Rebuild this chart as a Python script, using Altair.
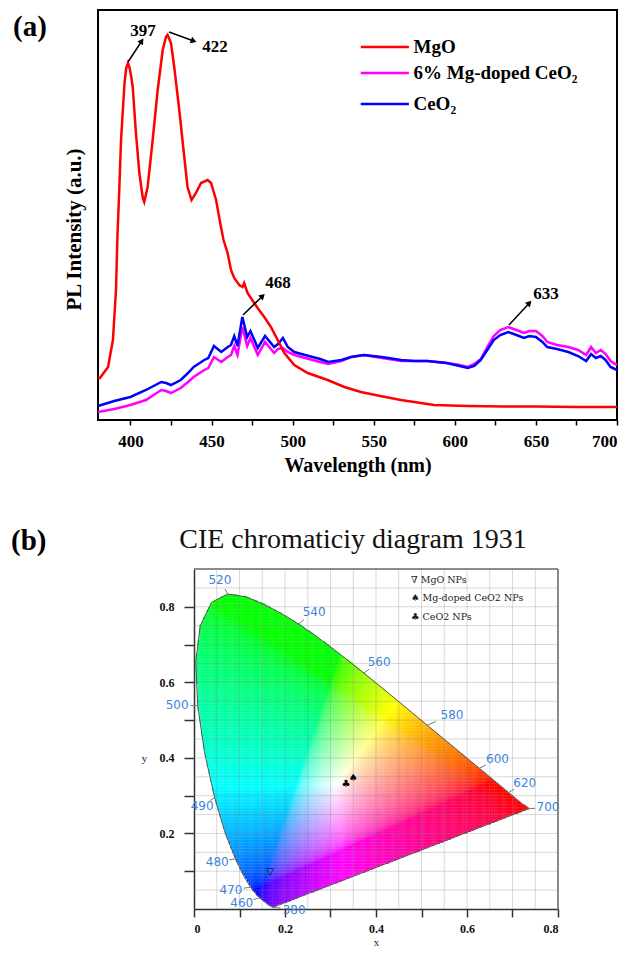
import math
import numpy as np
import pandas as pd
import altair as alt

# ================= Panel (a): PL spectra =================
mgo_wl = [380, 381.2, 386.2, 389.2, 391.1, 392.0, 393.0, 394.2, 395.4, 396.4, 397.4, 398.5,
          399.5, 400.4, 401.4, 403.4, 405.5, 407.6, 408.5, 410.6, 413.7, 416.8, 419.9, 421.9,
          422.9, 425.0, 427.0, 430.1, 433.2, 435.2, 437.7, 440.4, 443.5, 447.6, 449.7, 452.8,
          455.8, 457.4, 459.9, 462.0, 464.0, 467.1, 469.1, 470.1, 472.2, 476.3, 478.4, 482.5,
          486.6, 490.8, 494.9, 501.0, 509.3, 521.6, 531.9, 542.1, 554.0, 566.8, 587.2, 608.0,
          630.0, 650.0, 675.0, 700.0]
mgo_pl = [42, 42, 53, 80, 130, 185, 225, 280, 312, 338, 352, 357,
          352, 344, 333, 287, 247, 222, 218, 233, 280, 330, 370, 383,
          385, 377, 353, 310, 263, 233, 220, 227, 237, 240, 237, 220,
          193, 180, 167, 150, 142, 135, 133, 137, 127, 117, 112, 103,
          93, 80, 67, 55, 47, 40, 33, 28, 24, 20, 15, 14,
          13.5, 13.5, 13, 13]

ceo_wl = [380, 390, 400, 409.6, 419, 422, 425, 431, 435.5, 439,
          445.5, 448, 451.5, 456, 460, 462, 464, 466, 469, 472,
          474, 478.5, 483, 488.6, 491, 494, 497, 501, 510, 517,
          522, 530, 536, 544, 555, 567, 575, 583, 595, 603,
          608, 612, 616, 620, 624, 628, 633, 638, 642.6, 646,
          650, 654, 657, 663, 670, 676, 681, 684, 687, 690,
          693, 696, 700]
ceo2_pl = [14, 19, 23, 30, 38, 37, 35, 40, 47, 53,
           60, 62, 74, 68, 73, 75, 84, 74, 103, 83,
           89, 72, 84, 73, 76, 82, 73, 68, 64, 61,
           58, 60, 63, 65, 63, 60, 59, 59, 57, 54,
           52, 54, 60, 70, 80, 85, 88, 85, 82, 84,
           83, 78, 73, 71, 68, 64, 59, 66, 62, 64,
           60, 53, 50]
mgceo2_pl = [8, 11, 15, 20, 30, 29, 27, 32, 38, 43,
             50, 52, 63, 58, 63, 65, 74, 65, 93, 74,
             82, 65, 78, 67, 71, 72, 68, 65, 61, 58,
             56, 59, 63, 65, 62, 59, 59, 59, 57, 55,
             53, 56, 61, 73, 84, 90, 93, 90, 87, 89,
             89, 84, 78, 75, 73, 70, 65, 73, 67, 70,
             66, 59, 55]

series_names = ["MgO", "6% Mg-doped CeO\u2082", "CeO\u2082"]
series_colors = ["#ff0000", "#ff00ff", "#0000ff"]

# legend rows (a)
leg_y = [373, 347, 316]
leg_x1 = 542.0
leg_x2 = 571.7
leg_tx = 574.5

# peak annotations (a)
arr_x1 = [398.5, 423.8, 469.4, 633.4]
arr_y1 = [358, 388, 105, 95]
arr_x2 = [407.0, 439.0, 481.5, 646.0]
arr_y2 = [379, 379, 124, 117]
arr_lab = ["397", "422", "468", "633"]
arr_lx = [407.7, 452.1, 491.0, 656.2]
arr_ly = [389, 373, 137.5, 126]

# ================= Panel (b): CIE 1931 =================
cie_nm = [380, 390, 400, 410, 420, 430, 440, 450, 455, 460, 465, 470, 475, 480, 485, 490,
          495, 500, 505, 510, 515, 520, 525, 530, 535, 540, 545, 550, 555, 560, 565, 570,
          575, 580, 585, 590, 595, 600, 605, 610, 615, 620, 630, 640, 650, 660, 680, 700]
cie_x = [0.17411, 0.17380, 0.17334, 0.17258, 0.17141, 0.16888, 0.16441, 0.15664, 0.15099,
         0.14396, 0.13550, 0.12412, 0.10959, 0.09129, 0.06871, 0.04539, 0.02346, 0.00817,
         0.00386, 0.01387, 0.03885, 0.07430, 0.11416, 0.15472, 0.19288, 0.22962, 0.26578,
         0.30160, 0.33736, 0.37310, 0.40874, 0.44406, 0.47877, 0.51249, 0.54479, 0.57515,
         0.60293, 0.62704, 0.64823, 0.66576, 0.68008, 0.69150, 0.70792, 0.71903, 0.72599,
         0.73027, 0.73439, 0.73469]
cie_y = [0.00496, 0.00492, 0.00480, 0.00480, 0.00510, 0.00690, 0.01086, 0.01771, 0.02274,
         0.02970, 0.03988, 0.05780, 0.08684, 0.13270, 0.20072, 0.29498, 0.41270, 0.53842,
         0.65482, 0.75019, 0.81202, 0.83380, 0.82621, 0.80586, 0.78163, 0.75433, 0.72432,
         0.69231, 0.65885, 0.62445, 0.58961, 0.55472, 0.52021, 0.48659, 0.45443, 0.42423,
         0.39650, 0.37249, 0.35139, 0.33401, 0.31975, 0.30834, 0.29203, 0.28093, 0.27401,
         0.26975, 0.26561, 0.26531]

wl_lab_nm = [380, 460, 470, 480, 490, 500, 520, 540, 560, 580, 600, 620, 700]
wl_lab_x = [0.220, 0.105, 0.081, 0.051, 0.018, -0.037, 0.057, 0.264, 0.407, 0.567, 0.667, 0.727, 0.778]
wl_lab_y = [-0.003, 0.016, 0.050, 0.125, 0.273, 0.540, 0.872, 0.787, 0.654, 0.514, 0.397, 0.334, 0.269]

pt_names = ["MgO NPs", "Mg-doped CeO2 NPs", "CeO2 NPs"]
pt_glyph = ["\u25bd", "\u2660", "\u2663"]
pt_x = [0.167, 0.350, 0.334]
pt_y = [0.098, 0.348, 0.331]
pt_leg_glyph = ["\u2207", "\u2660", "\u2663"]
pt_leg_x = 0.477
pt_leg_y = [0.8715, 0.824, 0.7735]

SERIF = "Liberation Serif"

# ---------------- build panel (a) ----------------
rows = []
for w, v in zip(mgo_wl, mgo_pl):
    rows.append({"series": series_names[0], "wl": w, "pl": v})
for w, v in zip(ceo_wl, mgceo2_pl):
    rows.append({"series": series_names[1], "wl": w, "pl": v})
for w, v in zip(ceo_wl, ceo2_pl):
    rows.append({"series": series_names[2], "wl": w, "pl": v})
df_lines = pd.DataFrame(rows)

xa = alt.Scale(domain=[380, 700], nice=False, zero=False)
ya = alt.Scale(domain=[0, 410], nice=False, zero=False)
col = alt.Scale(domain=series_names, range=series_colors)

x_axis_a = alt.Axis(values=list(range(400, 701, 25)),
                    labelExpr="datum.value % 50 == 0 ? datum.label : ''",
                    format="d", title="Wavelength (nm)", grid=False, domain=False,
                    tickColor="black", tickWidth=1.5, tickSize=5,
                    labelFont=SERIF, labelFontWeight="bold", labelFontSize=17, labelColor="black",
                    labelPadding=8, titleFont=SERIF, titleFontWeight="bold", titleFontSize=20,
                    titleColor="black", titlePadding=6)
y_axis_a = alt.Axis(title="PL Intensity (a.u.)", labels=False, ticks=False, domain=False, grid=False,
                    titleFont=SERIF, titleFontWeight="bold", titleFontSize=21, titleColor="black",
                    titlePadding=14, titleY=219)


def XA(field):
    return alt.X(field, scale=xa, axis=x_axis_a, title="Wavelength (nm)")


def YA(field):
    return alt.Y(field, scale=ya, axis=y_axis_a, title="PL Intensity (a.u.)")


lines_layers = []
for name in [series_names[1], series_names[2], series_names[0]]:
    lines_layers.append(
        alt.Chart(df_lines[df_lines.series == name]).mark_line(strokeWidth=2.5).encode(
            x=XA("wl:Q"), y=YA("pl:Q"),
            color=alt.Color("series:N", scale=col, legend=None),
        )
    )

df_leg = pd.DataFrame({"series": series_names, "x1": [leg_x1] * 3, "x2": [leg_x2] * 3,
                       "y": leg_y, "tx": [leg_tx] * 3})
leg_lines = alt.Chart(df_leg).mark_rule(strokeWidth=2.5).encode(
    x=XA("x1:Q"), x2="x2:Q", y=YA("y:Q"),
    color=alt.Color("series:N", scale=col, legend=None))
leg_text = alt.Chart(df_leg).mark_text(align="left", baseline="middle", font=SERIF,
                                       fontWeight="bold", fontSize=19, color="black").encode(
    x=XA("tx:Q"), y=YA("y:Q"), text="series:N")

px_per_nm = 519.0 / 320.0
angs = []
for a1, b1, a2, b2 in zip(arr_x1, arr_y1, arr_x2, arr_y2):
    angs.append(math.degrees(math.atan2((a2 - a1) * px_per_nm, (b2 - b1))) % 360)
df_arr = pd.DataFrame({"x1": arr_x1, "y1": arr_y1, "x2": arr_x2, "y2": arr_y2, "ang": angs,
                       "lab": arr_lab, "lx": arr_lx, "ly": arr_ly})
arr_rule = alt.Chart(df_arr).mark_rule(color="black", strokeWidth=1.5).encode(
    x=XA("x1:Q"), y=YA("y1:Q"), x2="x2:Q", y2="y2:Q")
arr_head = alt.Chart(df_arr).mark_point(shape="triangle-up", filled=True, size=45, color="black",
                                        opacity=1).encode(
    x=XA("x2:Q"), y=YA("y2:Q"), angle=alt.Angle("ang:Q", scale=None))
arr_text = alt.Chart(df_arr).mark_text(font=SERIF, fontWeight="bold", fontSize=17, color="black",
                                       baseline="middle").encode(
    x=XA("lx:Q"), y=YA("ly:Q"), text="lab:N")

df_tag_a = pd.DataFrame({"x": [327.6], "y": [393], "t": ["(a)"]})
tag_a = alt.Chart(df_tag_a).mark_text(align="left", baseline="middle", font=SERIF, fontWeight="bold",
                                      fontSize=29, color="black").encode(
    x=XA("x:Q"), y=YA("y:Q"), text="t:N")

chart_a = alt.layer(*lines_layers, leg_lines, leg_text, arr_rule, arr_head, arr_text, tag_a).properties(
    width=519, height=410, view=alt.ViewBackground(stroke="black", strokeWidth=2))

# ---------------- build panel (b) ----------------
xb = alt.Scale(domain=[0, 0.8], range=[96, 460], nice=False, zero=False)
yb = alt.Scale(domain=[0, 0.9], nice=False, zero=False)

# colour cells inside the spectral locus
step = 0.004
gxs = np.arange(0.0, 0.75, step)
gys = np.arange(0.0, 0.84, step)
GX, GY = np.meshgrid(gxs, gys)
CX = GX + step / 2
CY = GY + step / 2
pxl = np.array(cie_x + [cie_x[0]])
pyl = np.array(cie_y + [cie_y[0]])
inside = np.zeros(CX.shape, dtype=bool)
for k in range(len(pxl) - 1):
    xi, yi, xj, yj = pxl[k], pyl[k], pxl[k + 1], pyl[k + 1]
    dy = (yj - yi) if yj != yi else 1e-12
    cond = (yi > CY) != (yj > CY)
    xint = (xj - xi) * (CY - yi) / dy + xi
    inside ^= cond & (CX < xint)
cx = CX[inside]
cy = CY[inside]
Xc = cx / cy
Zc = (1 - cx - cy) / cy
r = 3.2406 * Xc - 1.5372 - 0.4986 * Zc
g = -0.9689 * Xc + 1.8758 + 0.0415 * Zc
b = 0.0557 * Xc - 0.2040 + 1.0570 * Zc
rgb = np.clip(np.stack([r, g, b], axis=1), 0, None)
rgb = rgb / rgb.max(axis=1, keepdims=True)
rgb = np.where(rgb <= 0.0031308, 12.92 * rgb, 1.055 * np.power(rgb, 1 / 2.4) - 0.055)
rgb = np.clip(np.round(rgb * 255), 0, 255).astype(int)
hexes = ["#%02x%02x%02x" % tuple(v) for v in rgb]
df_cells = pd.DataFrame({"cx": np.round(GX[inside], 3), "cy": np.round(GY[inside], 3), "c": hexes})

x_axis_b = alt.Axis(values=[0, 0.1, 0.2, 0.3, 0.4, 0.5, 0.6, 0.7, 0.8],
                    labelExpr="round(datum.value * 10) % 2 == 0 ? datum.label : ''",
                    format="~g", title="x", grid=False, domainColor="#333", domainWidth=1.5,
                    tickColor="#333", tickWidth=1.5, tickSize=8, labelPadding=6,
                    labelFont=SERIF, labelFontWeight="bold", labelFontSize=12, labelColor="#111",
                    titleFont=SERIF, titleFontWeight="normal", titleFontSize=11, titleColor="#222",
                    titlePadding=2)
y_axis_b = alt.Axis(values=[0.1, 0.2, 0.3, 0.4, 0.5, 0.6, 0.7, 0.8],
                    labelExpr="round(datum.value * 10) % 2 == 0 ? datum.label : ''",
                    format="~g", title="y", titleAngle=0, titleX=-50, titleY=189,
                    titleAlign="center", titleBaseline="middle", grid=False, offset=-96,
                    domainColor="#333", domainWidth=1.5, tickColor="#333", tickWidth=1.5,
                    tickSize=10, labelPadding=10, labelFont=SERIF, labelFontWeight="bold",
                    labelFontSize=12, labelColor="#111", titleFont=SERIF, titleFontWeight="normal",
                    titleFontSize=11, titleColor="#222")


def XB(field):
    return alt.X(field, scale=xb, axis=x_axis_b, title="x")


def YB(field):
    return alt.Y(field, scale=yb, axis=y_axis_b, title="y")


cells = alt.Chart(df_cells).transform_calculate(
    cx2="datum.cx + 0.0047", cy2="datum.cy + 0.0047").mark_rect(strokeWidth=0).encode(
    x=XB("cx:Q"), x2="cx2:Q", y=YB("cy:Q"), y2="cy2:Q",
    color=alt.Color("c:N", scale=None))

grid_x = [round(0.05 * i, 2) for i in range(1, 16)]
grid_y = [round(0.05 * i, 2) for i in range(1, 18)]
df_gx = pd.DataFrame({"g": grid_x, "lo": 0.0, "hi": 0.9})
df_gy = pd.DataFrame({"g": grid_y, "lo": 0.0, "hi": 0.8})
gridx = alt.Chart(df_gx).mark_rule(color="#808080", opacity=0.3, strokeWidth=1).encode(
    x=XB("g:Q"), y=YB("lo:Q"), y2="hi:Q")
gridy = alt.Chart(df_gy).mark_rule(color="#808080", opacity=0.3, strokeWidth=1).encode(
    y=YB("g:Q"), x=XB("lo:Q"), x2="hi:Q")

df_frame = pd.DataFrame({"x1": [0.0, 0.8], "x2": [0.8, 0.8], "y1": [0.9, 0.0], "y2": [0.9, 0.9]})
frame = alt.Chart(df_frame).mark_rule(color="#666", strokeWidth=1.5).encode(
    x=XB("x1:Q"), x2="x2:Q", y=YB("y1:Q"), y2="y2:Q")

df_locus = pd.DataFrame({"i": list(range(len(cie_x) + 1)), "x": cie_x + [cie_x[0]],
                         "y": cie_y + [cie_y[0]]})
locus = alt.Chart(df_locus).mark_line(color="#555", strokeWidth=1).encode(
    x=XB("x:Q"), y=YB("y:Q"), order="i:Q")

tk_rows = []
for nm, lx, ly in zip(wl_lab_nm, wl_lab_x, wl_lab_y):
    k = cie_nm.index(nm)
    x0, y0 = cie_x[k], cie_y[k]
    tk_rows.append({"x1": x0, "y1": y0, "x2": x0 + 0.35 * (lx - x0), "y2": y0 + 0.35 * (ly - y0),
                    "lx": lx, "ly": ly, "t": str(nm)})
df_tk = pd.DataFrame(tk_rows)
wl_ticks = alt.Chart(df_tk).mark_rule(color="#777", strokeWidth=1).encode(
    x=XB("x1:Q"), x2="x2:Q", y=YB("y1:Q"), y2="y2:Q")
wl_text = alt.Chart(df_tk).mark_text(color="#3d85d8", font="DejaVu Sans", fontSize=12,
                                     baseline="middle").encode(
    x=XB("lx:Q"), y=YB("ly:Q"), text="t:N")

df_pts = pd.DataFrame({"x": pt_x, "y": pt_y, "g": pt_glyph, "name": pt_names})
pts = alt.Chart(df_pts).mark_text(font="DejaVu Sans", fontSize=10, color="black",
                                  baseline="middle").encode(
    x=XB("x:Q"), y=YB("y:Q"), text="g:N")

df_pleg = pd.DataFrame({"x": [pt_leg_x] * 3, "y": pt_leg_y,
                        "t": [gl + " " + nm for gl, nm in zip(pt_leg_glyph, pt_names)]})
pleg = alt.Chart(df_pleg).mark_text(align="left", baseline="middle", font="DejaVu Serif",
                                    fontSize=9.5, color="#222").encode(
    x=XB("x:Q"), y=YB("y:Q"), text="t:N")

df_title_b = pd.DataFrame({"x": [0.3495], "y": [0.977], "t": ["CIE chromaticiy diagram 1931"]})
title_b = alt.Chart(df_title_b).mark_text(font=SERIF, fontSize=28, color="#111",
                                          baseline="middle").encode(
    x=XB("x:Q"), y=YB("y:Q"), text="t:N")
df_tag_b = pd.DataFrame({"x": [-0.4022], "y": [0.975], "t": ["(b)"]})
tag_b = alt.Chart(df_tag_b).mark_text(align="left", baseline="middle", font=SERIF, fontWeight="bold",
                                      fontSize=29, color="black").encode(
    x=XB("x:Q"), y=YB("y:Q"), text="t:N")

chart_b = alt.layer(cells, gridx, gridy, locus, wl_ticks, wl_text, pts, pleg, frame,
                    title_b, tag_b).properties(
    width=460, height=340, view=alt.ViewBackground(stroke="transparent", strokeWidth=0))

chart = alt.vconcat(chart_a, chart_b, spacing=49).properties(
    padding={"left": 10, "top": 9, "right": 0, "bottom": 0},
    background="white")

chart.save("out.html", embed_options={"renderer": "svg", "actions": False})
